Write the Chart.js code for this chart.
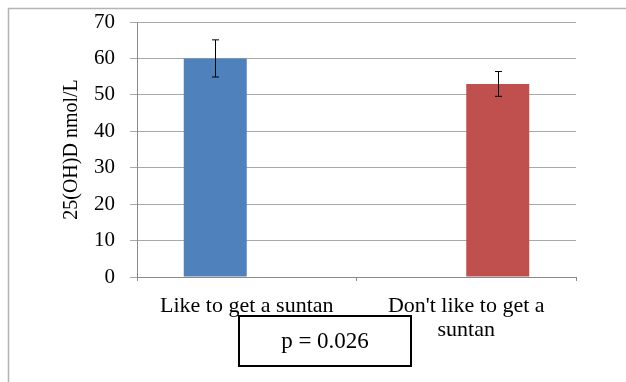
<!DOCTYPE html>
<html>
<head>
<meta charset="utf-8">
<script src="https://cdn.jsdelivr.net/npm/chart.js@4.4.0/dist/chart.umd.min.js"></script>
<style>
  html, body { margin: 0; padding: 0; background: #fff; }
  canvas { display: block; }
</style>
</head>
<body>
<canvas id="chart" width="626" height="382"></canvas>
<script>
// Data
const categories = ["Like to get a suntan", ["Don't like to get a", "suntan"]]
const likeValues = [60, null]
const dislikeValues = [null, 53]
const likeErrors = [5.1, null]
const dislikeErrors = [null, 3.4]
const yMin = 0
const yMax = 70
const yStep = 10
const yTitle = "25(OH)D nmol/L"
const pLabel = "p = 0.026"

const serif = "'Liberation Serif', 'Times New Roman', serif"

// light frame round the chart (top and left edges only visible)
const framePlugin = {
  id: "frame",
  beforeDraw(chart) {
    const ctx = chart.ctx
    ctx.save()
    ctx.fillStyle = "#fff"
    ctx.fillRect(0, 0, chart.width, chart.height)
    ctx.strokeStyle = "#b4b4b4"
    ctx.lineWidth = 1.5
    ctx.beginPath()
    ctx.moveTo(8.5, chart.height)
    ctx.lineTo(8.5, 8.5)
    ctx.lineTo(chart.width, 8.5)
    ctx.stroke()
    ctx.restore()
  }
}

// error bars on top of each bar
const errorBarPlugin = {
  id: "errorBars",
  afterDatasetsDraw(chart) {
    const ctx = chart.ctx
    const y = chart.scales.y
    ctx.save()
    ctx.strokeStyle = "#000"
    ctx.lineWidth = 1
    chart.data.datasets.forEach((ds, i) => {
      const meta = chart.getDatasetMeta(i)
      ds.errors.forEach((err, j) => {
        const v = ds.data[j]
        if (v == null || err == null) return
        const x = Math.round(meta.data[j].x) + 0.5
        const top = y.getPixelForValue(v + err)
        const bottom = y.getPixelForValue(v - err)
        ctx.beginPath()
        ctx.moveTo(x, top)
        ctx.lineTo(x, bottom)
        ctx.moveTo(x - 3.5, top)
        ctx.lineTo(x + 3.5, top)
        ctx.moveTo(x - 3.5, bottom)
        ctx.lineTo(x + 3.5, bottom)
        ctx.stroke()
      })
    })
    ctx.restore()
  }
}

// boxed p-value annotation
const pBoxPlugin = {
  id: "pBox",
  afterDraw(chart) {
    const ctx = chart.ctx
    const left = 239, top = 316, w = 172, h = 50
    ctx.save()
    ctx.fillStyle = "#fff"
    ctx.fillRect(left, top, w, h)
    ctx.strokeStyle = "#000"
    ctx.lineWidth = 2
    ctx.strokeRect(left, top, w, h)
    ctx.fillStyle = "#000"
    ctx.font = "23px " + serif
    ctx.textAlign = "center"
    ctx.textBaseline = "middle"
    ctx.fillText(pLabel, left + w / 2, top + h / 2 + 1)
    ctx.restore()
  }
}

const chart = new Chart(document.getElementById("chart"), {
  type: "bar",
  data: {
    labels: categories,
    datasets: [
      {
        label: "Like",
        data: likeValues,
        errors: likeErrors,
        backgroundColor: "#4f81bd",
        categoryPercentage: 0.574,
        barPercentage: 1
      },
      {
        label: "Don't like",
        data: dislikeValues,
        errors: dislikeErrors,
        backgroundColor: "#c0504d",
        categoryPercentage: 0.574,
        barPercentage: 1
      }
    ]
  },
  options: {
    responsive: false,
    animation: false,
    layout: {
      padding: { top: 22, right: 50, bottom: 0, left: 8 }
    },
    plugins: {
      legend: { display: false },
      tooltip: { enabled: false }
    },
    scales: {
      x: {
        offset: true,
        afterFit: (scale) => { scale.height = 105 },
        grid: {
          drawOnChartArea: false,
          drawTicks: true,
          tickLength: 4,
          color: "#8a8a8a"
        },
        border: { color: "#8a8a8a", width: 1 },
        ticks: {
          color: "#000",
          padding: 13,
          maxRotation: 0,
          autoSkip: false,
          font: { family: serif, size: 22, lineHeight: 24 / 22 }
        }
      },
      y: {
        min: yMin,
        max: yMax,
        afterFit: (scale) => {
          scale.width = 129
          // keep the plot top pinned to the layout padding
          scale.paddingTop = 0
          scale.paddingBottom = 0
        },
        title: {
          display: true,
          text: yTitle,
          color: "#000",
          padding: { top: 52, bottom: 0 },
          font: { family: serif, size: 20 }
        },
        grid: {
          color: "#a8a8a8",
          tickLength: 7
        },
        border: { color: "#8a8a8a", width: 1 },
        ticks: {
          stepSize: yStep,
          color: "#000",
          padding: 15,
          font: { family: serif, size: 21 }
        }
      }
    }
  },
  plugins: [framePlugin, errorBarPlugin, pBoxPlugin]
})
</script>
</body>
</html>
